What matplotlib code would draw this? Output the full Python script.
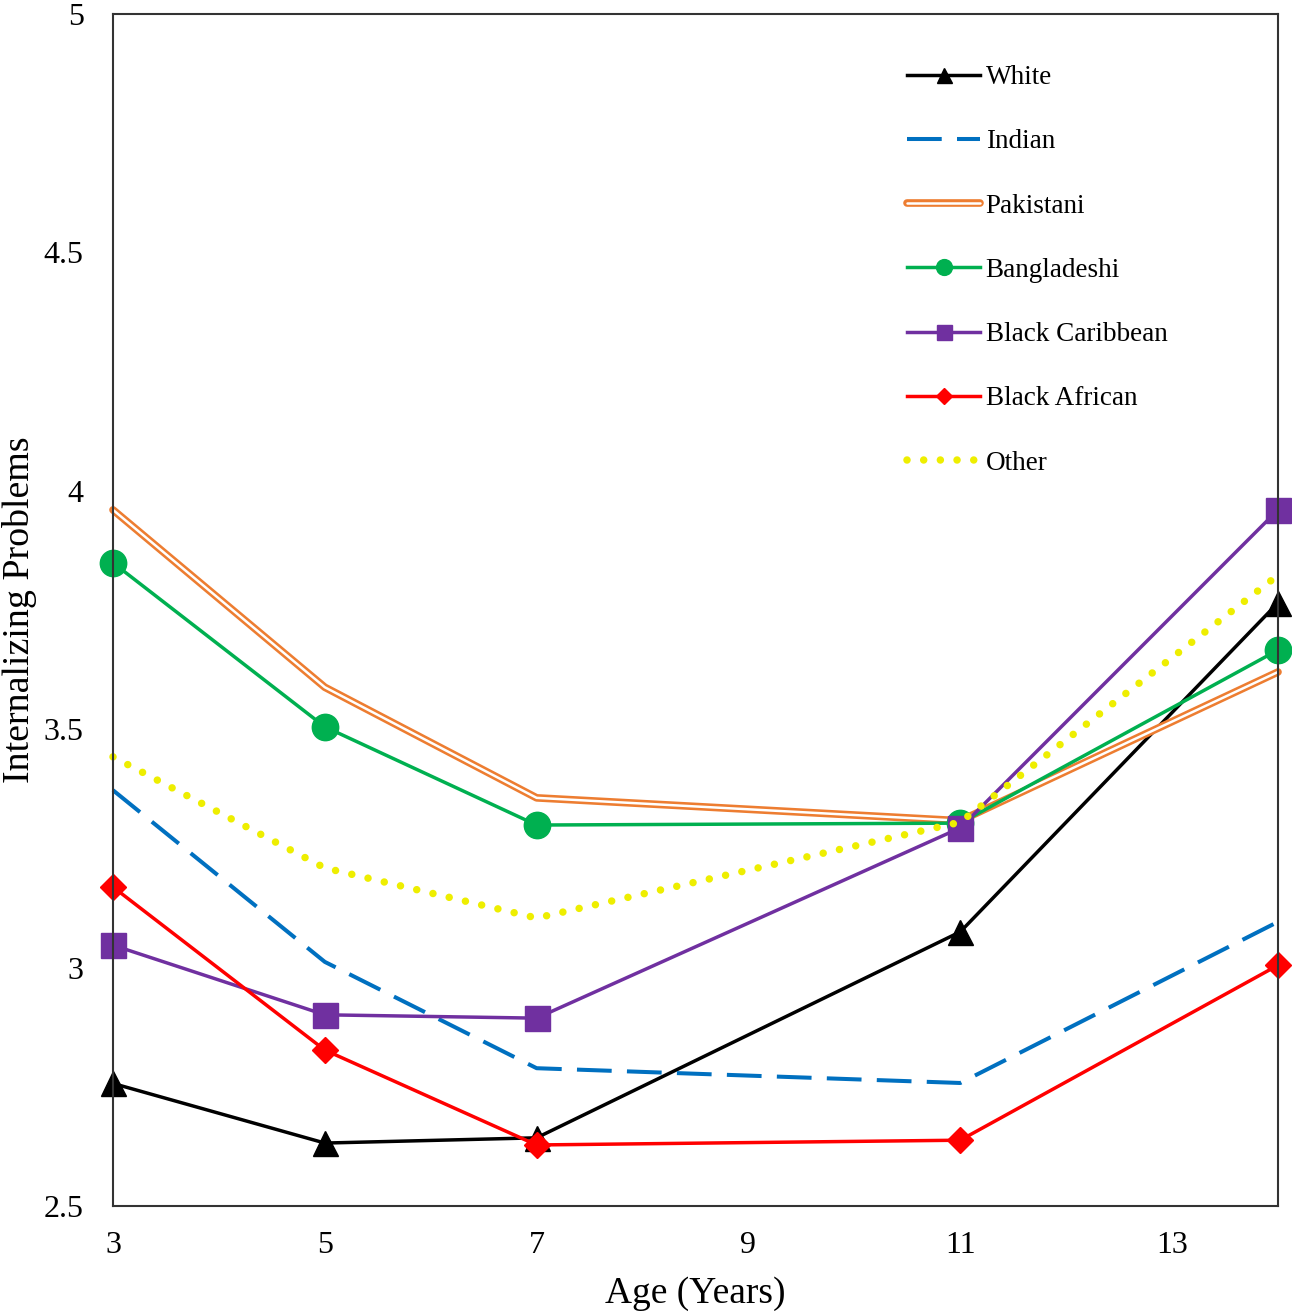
import matplotlib
matplotlib.use("Agg")
import matplotlib.pyplot as plt
import matplotlib.patheffects as pe

plt.rcParams['font.family'] = ['Liberation Serif', 'DejaVu Serif']
plt.rcParams['lines.scale_dashes'] = False

ages = [3, 5, 7, 11, 14]
white = [2.757, 2.632, 2.643, 3.075, 3.765]
indian = [3.372, 3.012, 2.789, 2.758, 3.096]
pakistani = [3.960, 3.588, 3.356, 3.308, 3.620]
bangladeshi = [3.849, 3.505, 3.299, 3.303, 3.666]
black_caribbean = [3.047, 2.901, 2.894, 3.293, 3.960]
black_african = [3.169, 2.827, 2.628, 2.638, 3.005]
other = [3.442, 3.209, 3.104, 3.305, 3.823]

xticks = [3, 5, 7, 9, 11, 13]
yticks = [2.5, 3, 3.5, 4, 4.5, 5]
ytick_labels = ['2.5', '3', '3.5', '4', '4.5', '5']

W, H = 1292, 1312
fig = plt.figure(figsize=(W / 100, H / 100), dpi=100)
ax = fig.add_axes([113 / W, 1 - 1206 / H, (1278 - 113) / W, (1206 - 14) / H])

lw = 2.5
ax.plot(ages, white, color='black', lw=lw, marker='^', ms=18, label='White', clip_on=False)
ax.plot(ages, indian, color='#0070C0', lw=2.9, dashes=(25, 11), label='Indian', clip_on=False)
ax.plot(ages, pakistani, color='white', lw=1.8, label='Pakistani', clip_on=False,
        solid_capstyle='round', solid_joinstyle='round',
        path_effects=[pe.Stroke(linewidth=5.5, foreground='#ED7D31', capstyle='round', joinstyle='round'),
                      pe.Normal()])
ax.plot(ages, bangladeshi, color='#00B050', lw=lw, marker='o', ms=19, label='Bangladeshi', clip_on=False)
ax.plot(ages, black_caribbean, color='#7030A0', lw=lw, marker='s', ms=18, label='Black Caribbean', clip_on=False)
ax.plot(ages, black_african, color='#FF0000', lw=lw, marker='D', ms=13, label='Black African', clip_on=False)
ax.plot(ages, other, color='#EEEE00', lw=5.4, dashes=(0.01, 12.0), dash_capstyle='round',
        label='Other', clip_on=False)

ax.set_xlim(3, 14)
ax.set_ylim(2.5, 5)
ax.set_xticks(xticks)
ax.set_xticklabels([str(t) for t in xticks])
ax.set_yticks(yticks)
ax.set_yticklabels(ytick_labels)
ax.tick_params(axis='both', length=0, labelsize=23)
ax.tick_params(axis='y', pad=21)
ax.tick_params(axis='x', pad=18)
for s in ax.spines.values():
    s.set_color('#333333')
    s.set_linewidth(1.5)

ax.set_xlabel('Age (Years)', fontsize=27, labelpad=12)
ax.set_ylabel('Internalizing Problems', fontsize=27.3, labelpad=5)

leg = fig.legend(loc='upper left', bbox_to_anchor=(907 / W, 1 - 65 / H), frameon=False,
                 fontsize=19.5, handlelength=2.7, handletextpad=0.2, labelspacing=1.45,
                 borderpad=0, borderaxespad=0, markerscale=0.6)

fig.savefig('out.png', dpi=100)
